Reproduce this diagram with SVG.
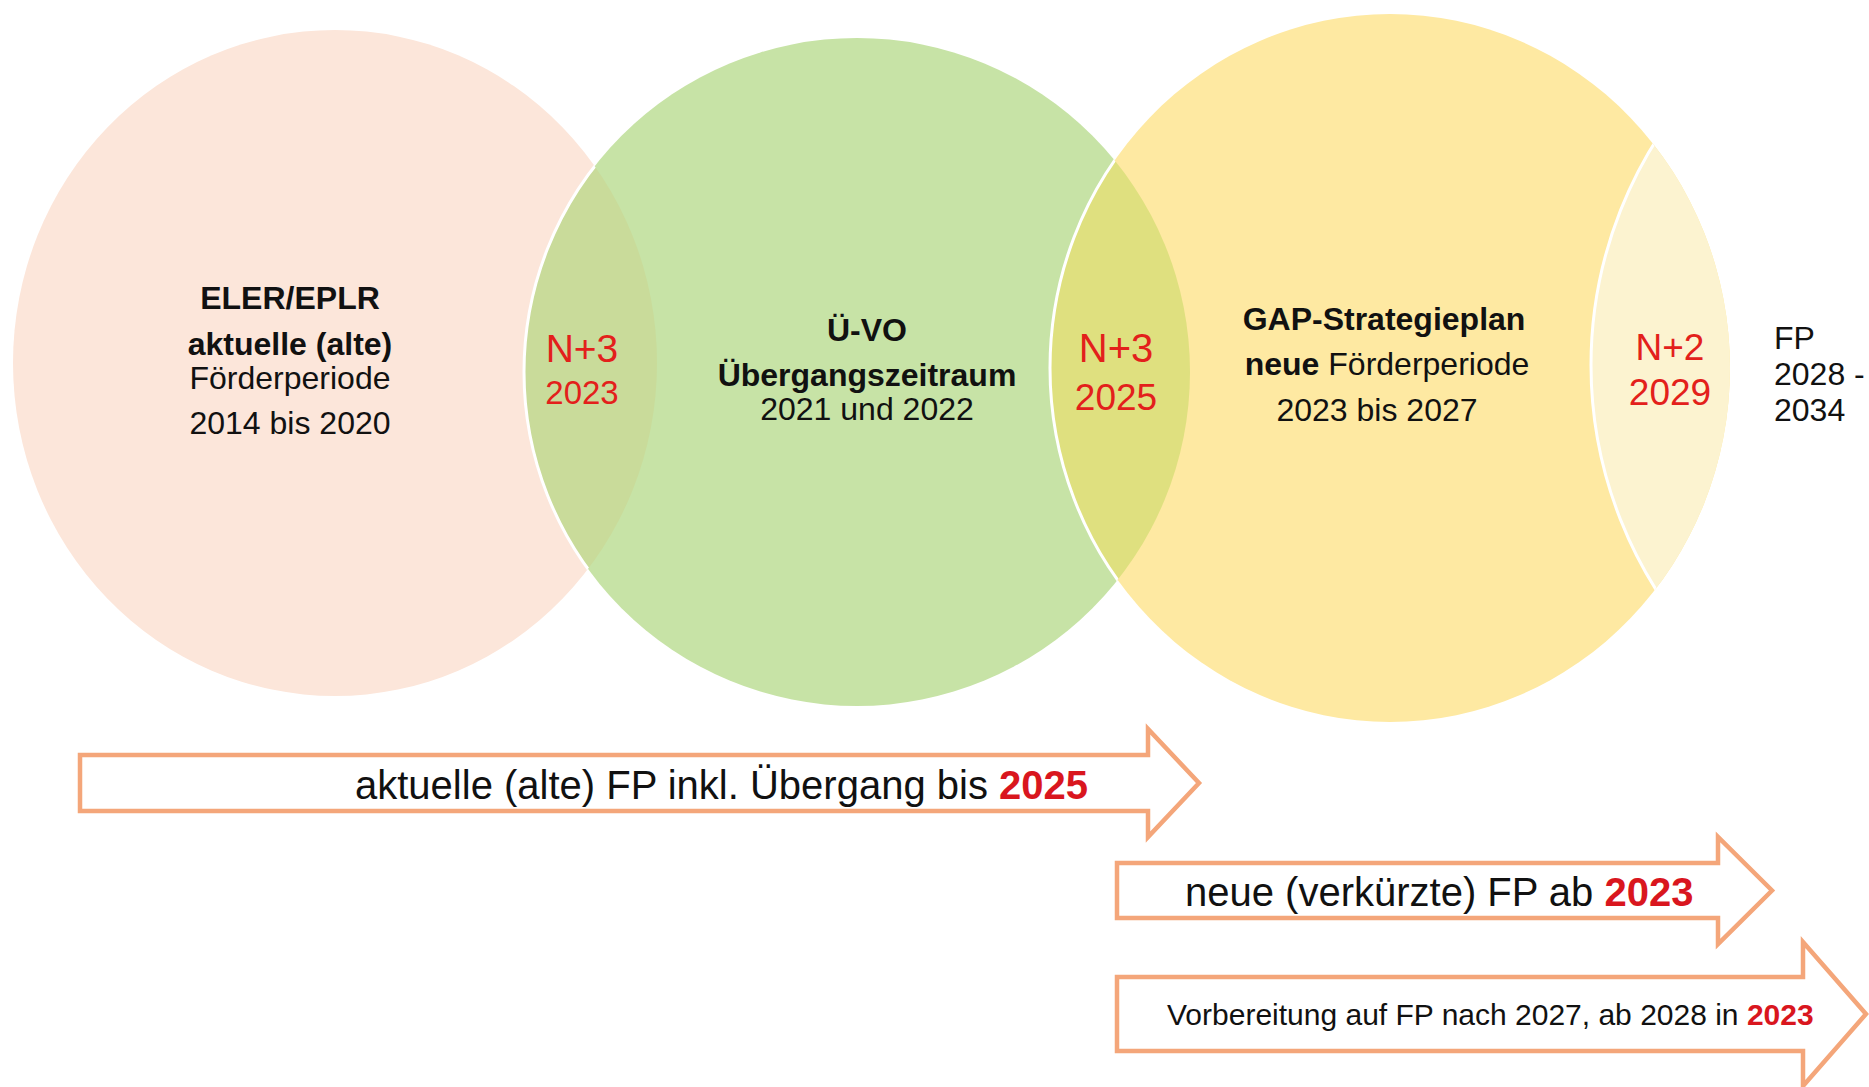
<svg xmlns="http://www.w3.org/2000/svg" width="1869" height="1087" viewBox="0 0 1869 1087">
<style>
  text { font-family: "Liberation Sans", Arial, sans-serif; }
  .t { font-size: 32px; fill: #111; text-anchor: middle; }
  .b { font-weight: bold; }
  .red { fill: #E3201B; }
  .arrow { fill: #fff; stroke: #F4A67A; stroke-width: 4.5; stroke-linejoin: miter; }
  .edge { fill: none; stroke: #fff; stroke-width: 3; }
  .at { font-size: 40px; fill: #111; }
  .ab { font-weight: bold; fill: #D9161E; }
</style>
<defs>
  <clipPath id="cPink"><ellipse cx="335" cy="363" rx="322" ry="333"/></clipPath>
  <clipPath id="cGreen"><ellipse cx="857" cy="372" rx="333" ry="334"/></clipPath>
  <clipPath id="cYellow"><ellipse cx="1390" cy="368" rx="340" ry="354"/></clipPath>
</defs>
<rect width="1869" height="1087" fill="#fff"/>

<g id="node-eler">
  <ellipse cx="335" cy="363" rx="322" ry="333" fill="#FCE6DA"/>
  <text class="t b" x="290" y="309">ELER/EPLR</text>
  <text class="t b" x="290" y="355">aktuelle (alte)</text>
  <text class="t" x="290" y="389">Förderperiode</text>
  <text class="t" x="290" y="434">2014 bis 2020</text>
</g>

<g id="node-uvo">
  <ellipse cx="857" cy="372" rx="333" ry="334" fill="#C7E3A6"/>
  <ellipse cx="335" cy="363" rx="322" ry="333" fill="#C9DB9A" clip-path="url(#cGreen)"/>
  <ellipse class="edge" cx="857" cy="372" rx="333" ry="334" clip-path="url(#cPink)"/>
  <text class="t b" x="867" y="341">Ü-VO</text>
  <text class="t b" x="867" y="386">Übergangszeitraum</text>
  <text class="t" x="867" y="420">2021 und 2022</text>
</g>

<g id="node-gap">
  <ellipse cx="1390" cy="368" rx="340" ry="354" fill="#FEE9A2"/>
  <ellipse cx="857" cy="372" rx="333" ry="334" fill="#DFE07F" clip-path="url(#cYellow)"/>
  <ellipse class="edge" cx="1390" cy="368" rx="340" ry="354" clip-path="url(#cGreen)"/>
  <text class="t b" x="1384" y="330">GAP-Strategieplan</text>
  <text class="t" x="1387" y="375"><tspan class="b">neue</tspan> Förderperiode</text>
  <text class="t" x="1377" y="421">2023 bis 2027</text>
</g>

<g id="node-next">
  <circle cx="2011" cy="365" r="420" fill="#FCF3D0" clip-path="url(#cYellow)"/>
  <circle class="edge" cx="2011" cy="365" r="420" clip-path="url(#cYellow)"/>
</g>

<g id="label-n3-2023">
  <text class="red" x="582" y="362" font-size="39" text-anchor="middle">N+3</text>
  <text class="red" x="582" y="404" font-size="33" text-anchor="middle">2023</text>
</g>
<g id="label-n3-2025">
  <text class="red" x="1116" y="362" font-size="40" text-anchor="middle">N+3</text>
  <text class="red" x="1116" y="410" font-size="37" text-anchor="middle">2025</text>
</g>
<g id="label-n2-2029">
  <text class="red" x="1670" y="360" font-size="37" text-anchor="middle">N+2</text>
  <text class="red" x="1670" y="405" font-size="37" text-anchor="middle">2029</text>
</g>
<g id="label-fp">
  <text x="1774" y="349" font-size="32" fill="#111">FP</text>
  <text x="1774" y="385" font-size="32" fill="#111">2028 -</text>
  <text x="1774" y="421" font-size="32" fill="#111">2034</text>
</g>

<g id="connectors">
  <g id="arrow-alt">
    <path class="arrow" d="M80,755 H1148 V729 L1199,783 L1148,837 V811 H80 Z"/>
    <text class="at" x="355" y="799">aktuelle (alte) FP inkl. Übergang bis <tspan class="ab">2025</tspan></text>
  </g>
  <g id="arrow-neu">
    <path class="arrow" d="M1117,863 H1718 V837 L1772,890.5 L1718,944 V918 H1117 Z"/>
    <text class="at" x="1185" y="906">neue (verkürzte) FP ab <tspan class="ab">2023</tspan></text>
  </g>
  <g id="arrow-vorb">
    <path class="arrow" d="M1117,977 H1803 V942 L1866,1014 L1803,1086 V1051 H1117 Z"/>
    <text class="at" x="1167" y="1025" style="font-size:30px">Vorbereitung auf FP nach 2027, ab 2028 in <tspan class="ab">2023</tspan></text>
  </g>
</g>
</svg>
